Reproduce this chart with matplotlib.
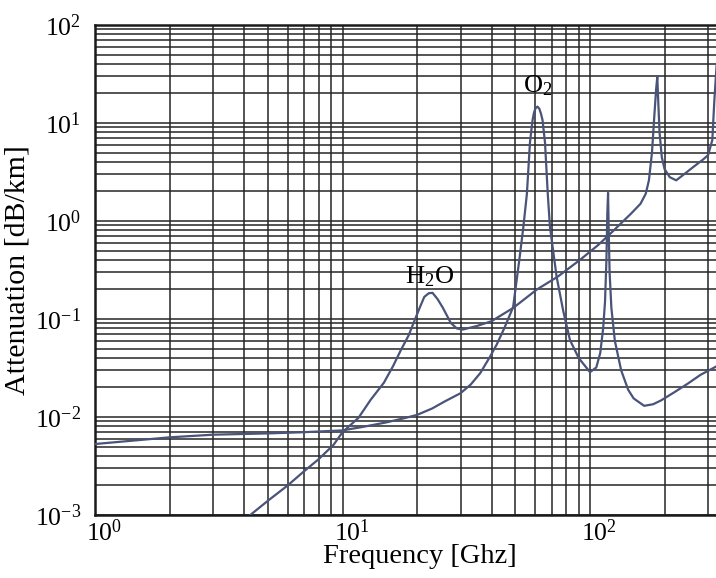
import numpy as np
import matplotlib
matplotlib.use("Agg")
import matplotlib.pyplot as plt
import matplotlib.transforms as mtransforms
from matplotlib.ticker import LogLocator

# dry air (oxygen) attenuation
o2_freq = [1, 2, 3, 5, 7, 10, 12, 15, 18, 20, 23, 26, 30, 33, 36, 39.4, 42, 45,
           48.9, 51.8, 53.8, 55.6, 57.2, 58.0, 58.6, 59.4, 60.3, 61.3, 62.4,
           63.4, 64.3, 65.8, 67.5, 68.9, 73.3, 78, 83, 90, 100, 106, 110, 113,
           115, 116.5, 117.5, 118.3, 119, 120, 122, 126, 133.6, 142.6, 150,
           165.5, 180, 194, 220, 249, 280, 318, 325]
o2_att = [5.3e-3, 6.2e-3, 6.6e-3, 6.8e-3, 7.0e-3, 7.3e-3, 7.9e-3, 8.8e-3,
          9.8e-3, 1.05e-2, 1.22e-2, 1.45e-2, 1.75e-2, 2.15e-2, 2.8e-2, 4.1e-2,
          5.5e-2, 8.0e-2, 0.132, 0.40, 0.87, 1.9, 6.3, 8.6, 10.7, 12.8, 14.2,
          14.7, 14.0, 12.4, 10.7, 6.3, 1.9, 0.87, 0.27, 0.12, 0.061, 0.04,
          0.0287, 0.032, 0.045, 0.08, 0.15, 0.4, 1.2, 1.94, 0.8, 0.3, 0.13,
          0.06, 0.030, 0.019, 0.0155, 0.013, 0.0135, 0.0148, 0.018, 0.022,
          0.027, 0.032, 0.033]

# water vapour attenuation
h2o_freq = [4.0, 4.24, 5, 6, 7, 8, 9.2, 10, 11.6, 13, 14.7, 16, 17.2, 18.5,
            19.4, 20.5, 21.4, 22.3, 23.1, 24.2, 25.4, 27.4, 29, 30.6, 35, 40,
            49, 61, 74, 91, 108, 122, 147, 160, 168, 173, 178, 182, 185, 187,
            189, 191, 195, 200, 210, 223, 240, 263, 285, 300, 312, 318, 325]
h2o_att = [8.8e-4, 1.0e-3, 1.4e-3, 2.0e-3, 2.8e-3, 3.7e-3, 5.2e-3, 7.0e-3,
           9.8e-3, 0.015, 0.0224, 0.033, 0.048, 0.068, 0.092, 0.13, 0.168,
           0.183, 0.185, 0.16, 0.131, 0.091, 0.08, 0.078, 0.085, 0.095, 0.13,
           0.2, 0.27, 0.40, 0.57, 0.76, 1.2, 1.5, 1.9, 2.6, 5, 12, 22, 29.5,
           15, 8, 4.5, 3.4, 2.8, 2.6, 3.0, 3.6, 4.2, 4.7, 6.7, 17, 40]

line_color = '#4a5378'

plt.rcParams['font.family'] = ['Liberation Serif', 'DejaVu Serif']
plt.rcParams['mathtext.fontset'] = 'custom'
plt.rcParams['mathtext.rm'] = 'Liberation Serif'
plt.rcParams['mathtext.it'] = 'Liberation Serif:italic'
plt.rcParams['mathtext.bf'] = 'Liberation Serif:bold'
plt.rcParams['axes.unicode_minus'] = False

fig = plt.figure(figsize=(7.16, 5.78), dpi=100)
ax = fig.add_axes([95 / 716, 63 / 578, 621 / 716, 490 / 578])

ax.plot(o2_freq, o2_att, color=line_color, lw=1.6, zorder=3)
ax.plot(h2o_freq, h2o_att, color=line_color, lw=1.6, zorder=3)

ax.set_xscale('log')
ax.set_yscale('log')
ax.set_xlim(1, 10 ** (621 / 247.5))
ax.set_ylim(1e-3, 1e2)

ax.xaxis.set_major_locator(LogLocator(base=10, numticks=10))
ax.xaxis.set_minor_locator(LogLocator(base=10, subs=np.arange(2, 10), numticks=20))
ax.yaxis.set_major_locator(LogLocator(base=10, numticks=10))
ax.yaxis.set_minor_locator(LogLocator(base=10, subs=np.arange(2, 10), numticks=20))

ax.grid(True, which='both', color='#262626', lw=1.1)
ax.set_axisbelow(True)
ax.tick_params(which='both', length=0, labelsize=18.5)
ax.tick_params(axis='x', pad=3)
ax.tick_params(axis='y', pad=10)

# shift x tick labels a bit to the right, as in the original
offset = mtransforms.ScaledTranslation(9 / 100, 0, fig.dpi_scale_trans)
for lab in ax.get_xticklabels():
    lab.set_transform(lab.get_transform() + offset)

for side in ['left', 'top', 'bottom']:
    ax.spines[side].set_linewidth(1.8)
    ax.spines[side].set_color('#1a1a1a')
ax.spines['right'].set_visible(False)

ax.set_xlabel('Frequency [Ghz]', fontsize=20.5, labelpad=0)
ax.xaxis.set_label_coords((420 - 95) / 621, -0.059)
ax.xaxis.label.set_verticalalignment('top')
ax.set_ylabel('Attenuation [dB/km]', fontsize=21.5)
ax.yaxis.set_label_coords(-(95 - 30) / 621, 0.5)

ax.text(22.5, 0.27, r'H$_2$O', fontsize=19, ha='center', va='center', zorder=4)
ax.text(61.5, 24, r'O$_2$', fontsize=19, ha='center', va='center', zorder=4)

fig.savefig('out.png', dpi=100)
